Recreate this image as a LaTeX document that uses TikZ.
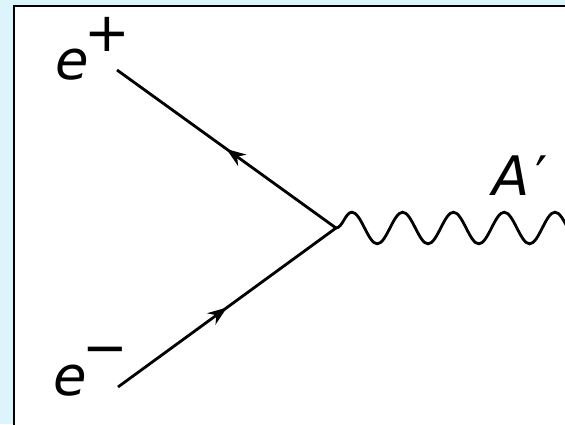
\documentclass[tikz,border=0pt]{standalone}
\usepackage{fontspec}
\setmainfont{DejaVu Sans}
\usepackage{tikz}
\usetikzlibrary{arrows.meta,decorations.markings,decorations.pathmorphing}
\definecolor{bgblue}{RGB}{221,244,252}

\begin{document}
\begin{tikzpicture}[x=0.02cm,y=-0.02cm,>=Stealth,
   lbl/.style={inner sep=0pt,font=\fontsize{31}{36}\selectfont\itshape},
   fermion/.style={line width=1.6pt,postaction={decorate},
     decoration={markings,mark=at position 0.5 with {\arrow{Stealth[length=11pt,width=8pt]}}}},
   photon/.style={line width=1.6pt,decorate,
     decoration={snake,amplitude=9pt,segment length=28.9pt}}]
  \clip (0,0) rectangle (565,424);
  % slide background and white panel (runs off the right and bottom)
  \fill[bgblue] (0,0) rectangle (565,424);
  \fill[white] (14,6) rectangle (620,470);
  \draw[line width=1.2pt] (14,470) -- (14,6) -- (620,6);
  % labels
  \node[lbl,anchor=base west] (ep) at (55,79) {e\kern-0.08em\raisebox{0.5em}{\upshape +}};
  \node[lbl,anchor=base west] (em) at (53,395) {e\kern-0.08em\raisebox{0.52em}{\upshape −}};
  \node[lbl,anchor=base west] (ap) at (492,195) {A\kern0.1em{\upshape ′}};
  % vertex and line ends
  \coordinate (v) at (336,228);
  \coordinate (pend) at (117,70);
  \coordinate (mend) at (118,387);
  \coordinate (aend) at (640,228);
  \draw[fermion] (v) -- (pend);
  \draw[fermion] (mend) -- (v);
  \draw[photon] (v) -- (aend);
\end{tikzpicture}
\end{document}
